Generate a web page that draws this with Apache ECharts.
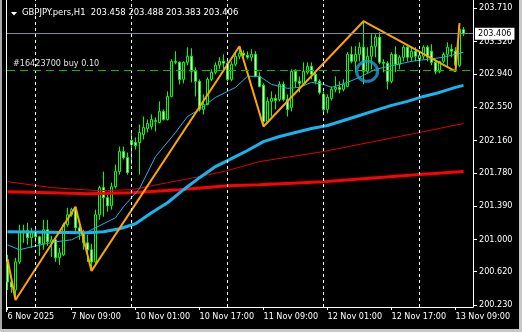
<!DOCTYPE html>
<html><head><meta charset="utf-8">
<script src="https://cdn.jsdelivr.net/npm/echarts@6/dist/echarts.min.js"></script>
<style>html,body{margin:0;padding:0;background:#000;}#c{width:522px;height:332px;}</style>
</head><body><div id="c"></div>
<script>
// ---- data (H1 bars, index 0 = 6 Nov 17:00) ----
const opens=[200.735,200.500,200.406,200.735,201.076,201.100,201.018,201.088,201.029,200.947,
201.112,200.971,200.994,200.783,200.818,201.171,201.288,201.347,201.135,201.076,
200.959,200.877,200.735,201.288,201.606,201.488,201.394,201.617,201.794,202.029,
201.958,202.158,202.135,202.135,202.229,202.299,202.323,202.382,202.370,202.499,
202.405,202.675,203.087,203.075,202.875,203.075,203.146,202.969,202.852,202.523,
202.581,202.875,202.958,203.040,203.087,203.064,202.875,203.052,203.146,203.181,
203.158,203.134,203.169,202.911,202.805,202.382,202.617,202.652,202.640,202.817,
202.640,202.546,202.969,202.852,202.828,202.958,203.028,202.934,202.852,202.699,
202.523,202.652,202.758,202.781,202.758,202.793,203.169,203.087,203.169,203.252,
202.969,203.146,203.263,203.369,203.075,203.064,202.852,203.169,203.052,203.134,
203.252,203.134,203.205,203.111,203.146,203.252,203.205,203.075,202.969,203.087,
203.169,203.228,203.205,203.040,203.458];
const highs=[200.818,200.571,200.783,201.171,201.171,201.194,201.135,201.123,201.041,201.229,
201.229,201.041,201.018,200.900,201.194,201.370,201.370,201.382,201.171,201.112,
201.053,200.947,201.347,201.629,201.794,201.523,201.664,201.876,202.088,202.088,
202.017,202.252,202.194,202.346,202.440,202.405,202.464,202.429,202.617,202.523,
202.734,203.111,203.205,203.087,203.087,203.252,203.240,203.017,202.875,202.699,
202.899,202.993,203.075,203.134,203.169,203.111,203.087,203.205,203.263,203.216,
203.205,203.228,203.205,202.958,202.828,202.664,202.734,202.699,202.852,202.852,
202.699,202.993,202.993,202.911,203.075,203.075,203.075,202.969,202.875,202.734,
202.699,202.793,202.911,202.852,202.875,203.193,203.263,203.263,203.310,203.557,
203.252,203.404,203.404,203.428,203.111,203.087,203.193,203.263,203.158,203.275,
203.287,203.252,203.252,203.205,203.275,203.275,203.287,203.111,203.075,203.193,
203.310,203.287,203.252,203.534,203.488];
const lows=[200.406,200.371,200.289,200.712,200.959,200.935,200.900,200.959,200.806,200.877,
200.924,200.794,200.735,200.700,200.806,201.147,201.265,201.088,200.994,200.877,
200.735,200.630,200.712,201.229,201.265,201.323,201.347,201.594,201.758,201.935,
201.758,201.876,202.052,201.758,202.170,202.252,202.288,202.264,202.358,202.393,
202.393,202.664,203.052,202.817,202.828,203.040,202.840,202.675,202.499,202.464,
202.570,202.852,202.934,202.993,202.993,202.852,202.852,203.028,203.111,203.087,
203.111,203.087,202.899,202.781,202.323,202.358,202.440,202.523,202.617,202.617,
202.440,202.499,202.781,202.722,202.805,202.934,202.875,202.817,202.699,202.476,
202.476,202.628,202.722,202.711,202.734,202.781,203.064,202.958,203.087,202.817,
202.946,202.993,203.134,203.052,202.958,202.758,202.828,202.958,202.993,203.087,
203.087,203.087,203.087,203.040,203.111,203.087,203.040,202.934,202.946,203.064,
203.028,203.134,202.969,203.017,203.383];
const closes=[200.500,200.441,200.735,201.088,201.100,201.018,201.088,201.029,200.947,201.112,
200.971,200.994,200.783,200.841,201.171,201.288,201.347,201.135,201.076,200.959,
200.877,200.735,201.288,201.606,201.488,201.394,201.617,201.794,202.029,201.958,
201.782,202.111,202.099,202.252,202.311,202.358,202.405,202.393,202.499,202.405,
202.675,203.087,203.075,202.875,203.075,203.146,202.969,202.852,202.523,202.581,
202.875,202.958,203.040,203.087,203.064,202.875,203.052,203.146,203.181,203.158,
203.134,203.169,202.911,202.793,202.382,202.617,202.652,202.628,202.817,202.640,
202.523,202.969,202.852,202.828,202.969,203.028,202.934,202.852,202.722,202.523,
202.664,202.758,202.781,202.758,202.817,203.169,203.087,203.169,203.252,202.969,
203.146,203.263,203.369,203.075,203.064,202.852,203.169,203.052,203.134,203.252,
203.134,203.205,203.146,203.158,203.252,203.134,203.075,202.969,203.087,203.169,
203.252,203.205,203.040,203.463,203.406];

const xLabelIdx=[0,16,32,48,64,80,96,112];
const xLabels=['6 Nov 2025','7 Nov 09:00','10 Nov 01:00','10 Nov 17:00','11 Nov 09:00','12 Nov 01:00','12 Nov 17:00','13 Nov 09:00'];
const yTicks=[200.230,200.620,201.000,201.390,201.780,202.160,202.550,202.940,203.320,203.710];
const dayLines=[7,31,55,79,103];

const maFast=[[0,200.935],[3,200.877],[6,200.912],[12,200.971],[16,200.994],[20,201.088],[23,201.159],[27,201.253],[29,201.382],[33,201.594],[37,201.970],[42,202.252],[45,202.440],[48,202.523],[52,202.664],[57,202.781],[60,202.911],[63,202.911],[66,202.817],[70,202.770],[73,202.781],[76,202.840],[79,202.817],[81,202.781],[85,202.840],[88,202.899],[92,202.993],[101,203.087],[109,203.134],[114,203.193]];
const maSlow=[[0,201.088],[10,201.082],[20,201.077],[24,201.088],[28,201.124],[32,201.182],[36,201.312],[40,201.429],[44,201.582],[48,201.723],[52,201.853],[56,201.947],[60,202.041],[64,202.146],[68,202.205],[72,202.252],[76,202.299],[80,202.335],[84,202.393],[88,202.452],[92,202.511],[96,202.570],[100,202.617],[104,202.675],[108,202.722],[112,202.781],[114,202.805]];
const redThin=[[0,201.676],[11,201.606],[23,201.570],[31,201.582],[40,201.664],[48,201.735],[55,201.806],[63,201.911],[79,202.029],[103,202.252],[114,202.358]];
const redThick=[[0,201.559],[11,201.547],[20,201.535],[31,201.547],[43,201.582],[55,201.629],[63,201.641],[79,201.676],[103,201.759],[114,201.794]];
const zigzag=[[0,200.770],[2,200.289],[17,201.382],[21,200.630],[58,203.263],[64,202.323],[89,203.557],[112,202.969],[113,203.534]];
const markerPt=[[89.9,202.970]];

const bidPrice=203.406;
const tradePrice=202.983;
const tradeLabel='#16423700 buy 0.10';
const titleText='GBPJPY.pers,H1  203.458 203.488 203.383 203.406';

// ---- chart ----
const FONT="'DejaVu Sans Condensed','Liberation Sans','DejaVu Sans',sans-serif";
const candles=opens.map((o,i)=>[i,o,closes[i],lows[i],highs[i]]);
const chart=echarts.init(document.getElementById('c'),null,{renderer:'canvas'});
chart.setOption({
  backgroundColor:'#000',
  animation:false,
  title:{text:titleText,left:22,top:8,padding:0,textStyle:{color:'#fff',fontSize:9.4,fontWeight:'normal',fontFamily:FONT}},
  grid:{left:7,right:49,top:0,bottom:25,outerBoundsMode:'none'},
  xAxis:{type:'value',min:-0.125,max:116.375,
    axisLine:{show:true,onZero:false,lineStyle:{color:'#fff',width:1}},
    axisTick:{show:true,customValues:xLabelIdx,length:3,lineStyle:{color:'#fff'}},
    axisLabel:{customValues:xLabelIdx,formatter:v=>xLabels[xLabelIdx.indexOf(Math.round(v))]||'',color:'#fff',fontSize:9,fontFamily:FONT,align:'left',margin:5},
    splitLine:{show:false}},
  yAxis:{type:'value',position:'right',min:200.2066,max:203.8056,
    axisLine:{show:true,onZero:false,lineStyle:{color:'#fff',width:1}},
    axisTick:{show:true,customValues:yTicks,length:4,lineStyle:{color:'#fff'}},
    axisLabel:{customValues:yTicks,formatter:v=>v.toFixed(3),color:'#fff',fontSize:9,fontFamily:FONT,margin:6},
    splitLine:{show:false}},
  graphic:[
    {type:'rect',shape:{x:0,y:0,width:2,height:332},style:{fill:'#a8a8a8'},silent:true},
    {type:'rect',shape:{x:519,y:0,width:3,height:332},style:{fill:'#c8c8c8'},silent:true},
    {type:'rect',shape:{x:0,y:329,width:522,height:3},style:{fill:'#c8c8c8'},silent:true},
    {type:'line',shape:{x1:6.5,y1:0,x2:6.5,y2:312},style:{stroke:'#fff',lineWidth:1},silent:true},
    {type:'polygon',shape:{points:[[11,12],[17,12],[14,15.5]]},style:{fill:'#fff'},silent:true}
  ],
  series:[
    {type:'line',data:[],z:1,silent:true,
     markLine:{symbol:['none','none'],silent:true,animation:false,
      data:[
        ...dayLines.map(d=>({xAxis:d,lineStyle:{color:'#fff',type:[3,3],width:1},label:{show:false}})),
        {yAxis:tradePrice,lineStyle:{color:'#00c000',type:[8,5],width:1},
          label:{show:true,position:'insideStartTop',formatter:tradeLabel,color:'#e0e0e0',fontSize:9,fontFamily:FONT,distance:[6,2]}},
        {yAxis:bidPrice,lineStyle:{color:'#7f8a96',type:'solid',width:1},
          label:{show:true,position:'end',formatter:bidPrice.toFixed(3),color:'#000',backgroundColor:'#fff',padding:[2,3,1,3],fontSize:9,fontFamily:FONT,distance:2}}
      ]}},
    {type:'candlestick',data:candles,encode:{x:0,y:[1,2,3,4]},barWidth:2,z:2,
     itemStyle:{color:'#000',color0:'#fff',borderColor:'#00ff00',borderColor0:'#00ff00',borderColorDoji:'#00ff00',borderWidth:1}},
    {type:'line',data:redThick,showSymbol:false,z:3,lineStyle:{color:'#ff0000',width:3}},
    {type:'line',data:redThin,showSymbol:false,z:3,lineStyle:{color:'#e00000',width:1}},
    {type:'line',data:maSlow,showSymbol:false,z:3,lineStyle:{color:'#18b4f0',width:3}},
    {type:'line',data:maFast,showSymbol:false,z:3,lineStyle:{color:'#18b4f0',width:1}},
    {type:'line',data:zigzag,showSymbol:false,z:4,lineStyle:{color:'#ffa500',width:2}},
    {type:'scatter',data:markerPt,symbol:'circle',symbolSize:[21,20],z:5,
     itemStyle:{color:'rgba(0,0,0,0)',borderColor:'#1e9ee0',borderWidth:3}}
  ]
});
</script></body></html>
